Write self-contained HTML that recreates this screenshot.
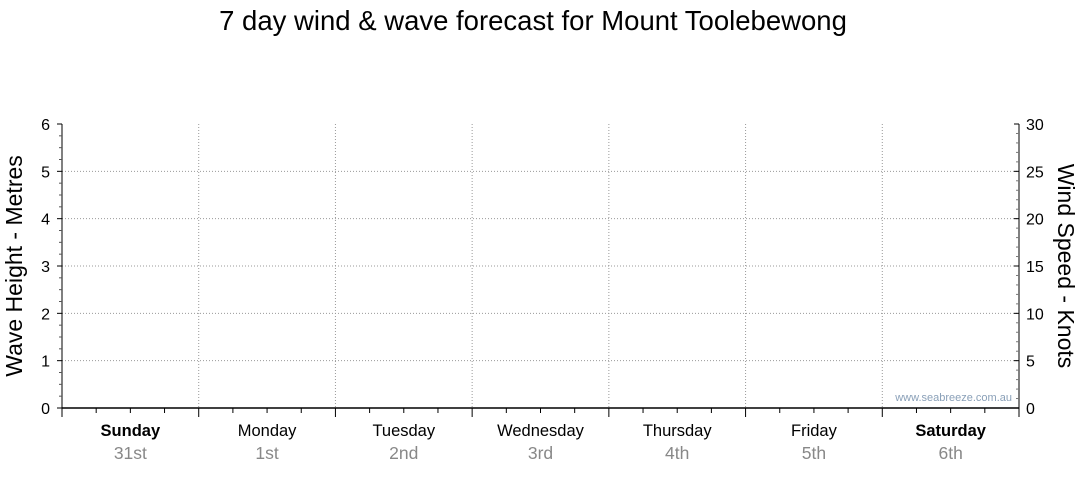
<!DOCTYPE html>
<html><head><meta charset="utf-8"><style>
body{margin:0;background:#fff;width:1080px;height:475px;overflow:hidden;font-family:"Liberation Sans",sans-serif}
</style></head><body>
<svg id="chart" width="1080" height="475" xmlns="http://www.w3.org/2000/svg" font-family="Liberation Sans, sans-serif">
<text x="533" y="30" font-size="27.5" text-anchor="middle" fill="#000">7 day wind &amp; wave forecast for Mount Toolebewong</text>
<g id="grid"></g><g id="axes"></g>
<text transform="translate(22,266) rotate(-90)" font-size="23" text-anchor="middle">Wave Height - Metres</text>
<text transform="translate(1058,266) rotate(90)" font-size="23" text-anchor="middle">Wind Speed - Knots</text>
<text x="1012" y="401" font-size="11" text-anchor="end" fill="#8aa0b8">www.seabreeze.com.au</text>
</svg>
<script>
const days=["Sunday","Monday","Tuesday","Wednesday","Thursday","Friday","Saturday"];
const dates=["31st","1st","2nd","3rd","4th","5th","6th"];
const boldDays=[true,false,false,false,false,false,true];
const waveTicks=[0,1,2,3,4,5,6];
const windTicks=[0,5,10,15,20,25,30];
const L=62,R=1019,T=124,B=408,NS="http://www.w3.org/2000/svg";
const dw=(R-L)/days.length;
const yW=v=>B-(v/6)*(B-T), yK=v=>B-(v/30)*(B-T);
const g=document.getElementById('grid'),a=document.getElementById('axes');
function el(p,t,at,txt){const e=document.createElementNS(NS,t);for(const k in at)e.setAttribute(k,at[k]);if(txt!=null)e.textContent=txt;p.appendChild(e);return e;}
waveTicks.forEach(v=>{if(v>0&&v<6){const l=el(g,'line',{x1:L,x2:R,y1:yW(v),y2:yW(v),stroke:'#999','stroke-dasharray':'1,2'});

}});
for(let i=1;i<days.length;i++){const x=L+i*dw;const l=el(g,'line',{x1:x,x2:x,y1:T,y2:B,stroke:'#999','stroke-dasharray':'1,2'});

}
el(a,'line',{x1:L,x2:L,y1:T,y2:B,stroke:'#000'});
el(a,'line',{x1:R,x2:R,y1:T,y2:B,stroke:'#000'});
el(a,'line',{x1:L,x2:R,y1:B,y2:B,stroke:'#000','stroke-width':1.5});
for(let v=0;v<=24;v++){const y=yW(v/4);el(a,'line',{x1:v%4?L-3:L-5,x2:L,y1:y,y2:y,stroke:v%4?'#555':'#000'});}
waveTicks.forEach(v=>{const t=el(a,'text',{x:L-12,y:yW(v)+6,'font-size':16,'text-anchor':'end'},v);

});
for(let v=0;v<=30;v++){const y=yK(v);el(a,'line',{x1:v%5?R-3:R-5,x2:R,y1:y,y2:y,stroke:v%5?'#777':'#000'});}
windTicks.forEach(v=>{const t=el(a,'text',{x:R+7,y:yK(v)+6,'font-size':16},v);

});
for(let i=0;i<=days.length*4;i++){const x=L+i*dw/4;el(a,'line',{x1:x,x2:x,y1:B,y2:B+(i%4?5:9),stroke:'#000'});}
days.forEach((d,i)=>{const cx=L+(i+0.5)*dw;
const t=el(a,'text',{x:cx,y:436,'font-size':16.5,'text-anchor':'middle','font-weight':boldDays[i]?'bold':'normal'},d);


const t2=el(a,'text',{x:cx,y:459,'font-size':17.5,'text-anchor':'middle',fill:'#888'},dates[i]);

});
</script>
</body></html>
